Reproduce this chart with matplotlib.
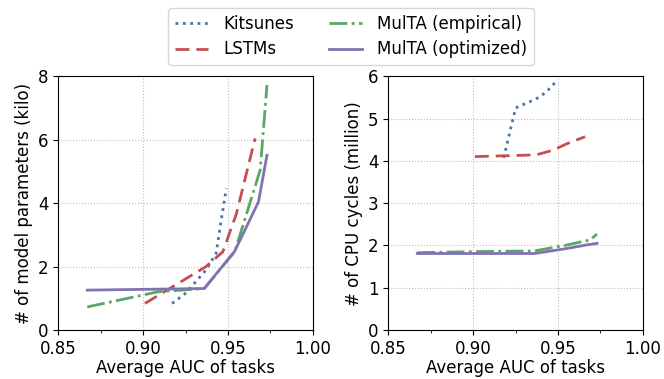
import matplotlib
matplotlib.use("Agg")
import matplotlib.pyplot as plt
from matplotlib.ticker import MultipleLocator

# Kitsunes
kit_auc = [0.917, 0.925, 0.937, 0.943, 0.946, 0.949]
kit_params = [0.84, 1.16, 1.89, 2.42, 3.46, 4.46]
kit_auc_cpu = [0.918, 0.925, 0.937, 0.943, 0.949]
kit_cpu = [4.07, 5.25, 5.46, 5.62, 5.88]

# LSTMs
lstm_auc = [0.901, 0.937, 0.947, 0.955, 0.966]
lstm_params = [0.84, 2.0, 2.47, 3.67, 6.04]
lstm_cpu = [4.10, 4.14, 4.25, 4.40, 4.57]

# MulTA (empirical)
emp_auc = [0.867, 0.909, 0.936, 0.954, 0.969, 0.973]
emp_params = [0.73, 1.21, 1.31, 2.47, 5.04, 7.72]
emp_cpu = [1.83, 1.86, 1.87, 2.00, 2.13, 2.27]

# MulTA (optimized)
opt_auc = [0.867, 0.936, 0.954, 0.968, 0.973]
opt_params = [1.26, 1.31, 2.49, 4.04, 5.51]
opt_cpu = [1.81, 1.81, 1.92, 2.02, 2.05]

blue, red, green, purple = "#4C72B0", "#C44E52", "#55A868", "#8172B2"
plt.rcParams["font.size"] = 12

fig = plt.figure(figsize=(6.64, 3.79), dpi=100)
ax1 = fig.add_axes([0.088, 0.129, 0.383, 0.670])
ax2 = fig.add_axes([0.585, 0.129, 0.383, 0.670])

lw = 2
ax1.plot(kit_auc, kit_params, ":", color=blue, lw=lw, label="Kitsunes")
ax1.plot(lstm_auc, lstm_params, "--", color=red, lw=lw, dashes=(5, 2.5), label="LSTMs")
ax1.plot(emp_auc, emp_params, "-.", color=green, lw=lw, label="MulTA (empirical)")
ax1.plot(opt_auc, opt_params, "-", color=purple, lw=lw, label="MulTA (optimized)")

ax2.plot(kit_auc_cpu, kit_cpu, ":", color=blue, lw=lw)
ax2.plot(lstm_auc, lstm_cpu, "--", color=red, lw=lw, dashes=(5, 2.5))
ax2.plot(emp_auc, emp_cpu, "-.", color=green, lw=lw)
ax2.plot(opt_auc, opt_cpu, "-", color=purple, lw=lw)

for ax in (ax1, ax2):
    ax.set_xlim(0.85, 1.0)
    ax.xaxis.set_minor_locator(MultipleLocator(0.025))
    ax.set_xticks([0.85, 0.90, 0.95, 1.00])
    ax.set_xticklabels(["0.85", "0.90", "0.95", "1.00"])
    ax.grid(True, which="major", linestyle=":", color="#bbbbbb", lw=0.8)
    ax.set_xlabel("Average AUC of tasks", labelpad=1)

ax1.set_ylim(0, 8)
ax1.yaxis.set_major_locator(MultipleLocator(2))
ax1.set_ylabel("# of model parameters (kilo)")
ax2.set_ylim(0, 6)
ax2.yaxis.set_major_locator(MultipleLocator(1))
ax2.set_ylabel("# of CPU cycles (million)")

fig.legend(loc="upper center", bbox_to_anchor=(0.529, 1.0), ncol=2,
           fontsize=12, handlelength=2.0, handletextpad=0.9, columnspacing=2.1,
           labelspacing=0.45)

fig.savefig("out.png", dpi=100)
